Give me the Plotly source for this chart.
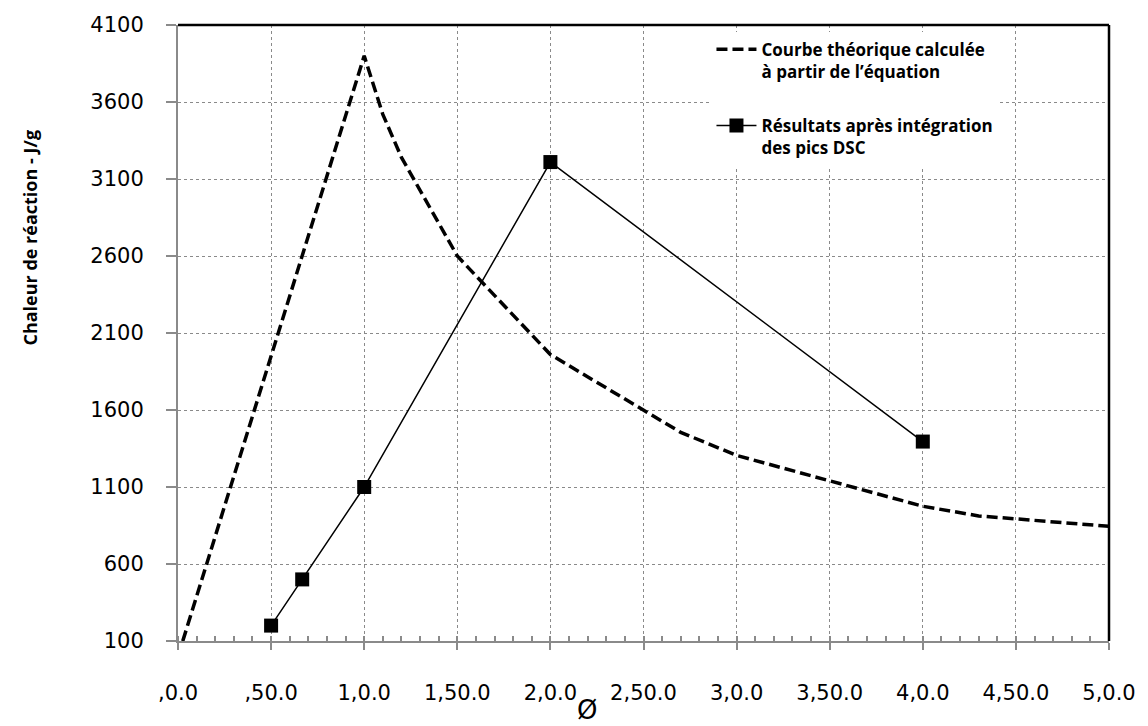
import plotly.graph_objects as go

# Theoretical curve (dashed)
theo_x = [0.0, 1.0, 1.1, 1.2, 1.5, 2.0, 2.7, 3.0, 4.0, 4.3, 5.0]
theo_y = [0, 3900, 3520, 3240, 2600, 1960, 1455, 1305, 975, 912, 845]

# DSC results (markers)
dsc_x = [0.5, 0.667, 1.0, 2.0, 4.0]
dsc_y = [200, 500, 1100, 3210, 1395]

x_tickvals = [0, 0.5, 1.0, 1.5, 2.0, 2.5, 3.0, 3.5, 4.0, 4.5, 5.0]
x_ticktext = [",0.0", ",50.0", "1,0.0", "1,50.0", "2,0.0", "2,50.0",
              "3,0.0", "3,50.0", "4,0.0", "4,50.0", "5,0.0"]
y_tickvals = [100, 600, 1100, 1600, 2100, 2600, 3100, 3600, 4100]

fig = go.Figure()
fig.add_trace(go.Scatter(
    x=theo_x, y=theo_y, mode="lines",
    name="Courbe théorique calculée<br>à partir de l’équation",
    line=dict(color="black", width=3.5, dash="11px,5px"),
    legendgroup="a",
))
fig.add_trace(go.Scatter(
    x=dsc_x, y=dsc_y, mode="lines+markers",
    name="Résultats après intégration<br>des pics DSC",
    line=dict(color="black", width=1.5),
    marker=dict(symbol="square", size=14, color="black"),
    legendgroup="b",
))

grid = dict(showgrid=True, gridcolor="#8a8a8a", gridwidth=1, griddash="dot")
fig.update_xaxes(
    range=[0, 5], tickvals=x_tickvals, ticktext=x_ticktext,
    showline=True, linecolor="#8a8a8a", linewidth=2,
    ticks="outside", ticklen=7, tickcolor="#8a8a8a", tickwidth=2,
    minor=dict(dtick=0.1, ticks="inside", ticklen=5, tickcolor="#8a8a8a",
               tickwidth=1.5, showgrid=False),
    tickfont=dict(family="DejaVu Sans", size=21, color="black"),
    ticklabelstandoff=25,
    zeroline=False, **grid,
)
fig.update_yaxes(
    range=[100, 4100], tickvals=y_tickvals,
    showline=True, linecolor="#8a8a8a", linewidth=2,
    ticks="outside", ticklen=10, tickcolor="#8a8a8a", tickwidth=1.5,
    tickfont=dict(family="DejaVu Sans", size=21, color="black"),
    ticklabelstandoff=18,
    zeroline=False, **grid,
)

fig.add_shape(type="line", xref="paper", yref="paper", x0=0, x1=1, y0=1, y1=1,
              line=dict(color="black", width=2.5))
fig.add_shape(type="line", xref="paper", yref="paper", x0=1, x1=1, y0=0, y1=1,
              line=dict(color="black", width=2.5))

# Axis titles
fig.add_annotation(
    text="Ø", xref="paper", yref="paper", x=0.439, y=-0.112,
    xanchor="center", yanchor="middle", showarrow=False,
    font=dict(family="DejaVu Sans", size=26, color="black"),
)
fig.add_annotation(
    text="<b>Chaleur de réaction - J/g</b>", xref="paper", yref="paper",
    x=-0.160, y=0.655, xanchor="center", yanchor="middle", textangle=-90,
    showarrow=False,
    font=dict(family="Open Sans", size=18, color="black"),
)

fig.update_layout(
    width=1148, height=726,
    margin=dict(l=178, r=30, t=25, b=85),
    plot_bgcolor="white", paper_bgcolor="white",
    showlegend=True,
    legend=dict(
        x=0.573, y=0.989, xanchor="left", yanchor="top",
        bgcolor="white", borderwidth=0,
        font=dict(family="Open Sans", size=17, color="black", weight="bold"),
        valign="top", traceorder="grouped", tracegroupgap=29,
        itemwidth=40,
    ),
)

fig.write_html(
    "out.html",
    config={"displayModeBar": False},
    post_script="document.body.style.margin='0';document.body.style.overflow='hidden';",
)
